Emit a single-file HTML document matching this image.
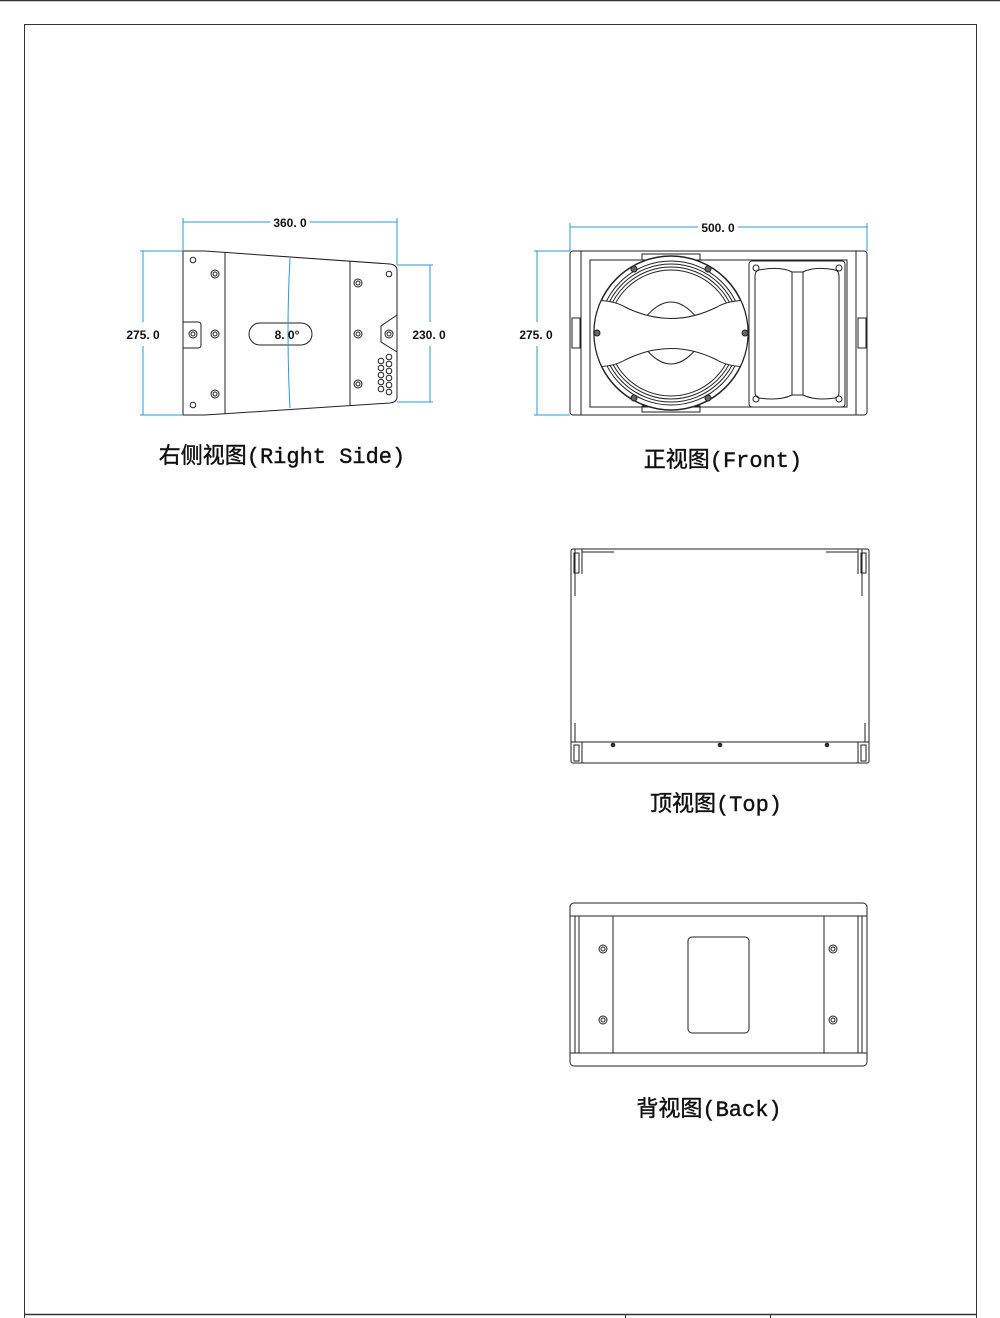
<!DOCTYPE html>
<html><head><meta charset="utf-8"><style>
html,body{margin:0;padding:0;background:#fff;}
svg{display:block;}
.l{font-family:"Liberation Mono","Noto Sans CJK SC",monospace;font-size:22px;fill:#111;stroke:#111;stroke-width:0.4;}
.d{font-family:"Liberation Sans",sans-serif;font-size:12px;font-weight:bold;fill:#111;}
</style></head><body>
<svg width="1000" height="1318" viewBox="0 0 1000 1318" xmlns="http://www.w3.org/2000/svg">
<defs><clipPath id="wc"><circle cx="671" cy="333" r="76.5"/></clipPath></defs>
<g fill="none" stroke="#333" stroke-width="1">
<line x1="0" y1="0.5" x2="1000" y2="0.5" stroke-width="1.5"/>
<line x1="24.5" y1="24" x2="24.5" y2="1318"/>
<line x1="976.5" y1="24" x2="976.5" y2="1318"/>
<line x1="24" y1="24.5" x2="977" y2="24.5"/>
<line x1="24" y1="1314.5" x2="977" y2="1314.5" stroke-width="1.5"/>
<line x1="625.5" y1="1314" x2="625.5" y2="1318"/>
<line x1="770.5" y1="1314" x2="770.5" y2="1318"/>
</g>

<!-- Right side view -->
<g fill="none" stroke="#222" stroke-width="1">
<path d="M183,251 L205,251 L390,264 Q397,265 397,270 L397,397 Q397,402 390,403 L205,415 L183,415 Z"/>
<line x1="225" y1="252.5" x2="225" y2="414"/>
<line x1="350" y1="261" x2="350" y2="405.5"/>
<path d="M183,322 L198,322 Q201,322 201,325 L201,345 Q201,348 198,348 L183,348"/>
<circle cx="193" cy="334" r="4"/><circle cx="193" cy="334" r="2"/>
<circle cx="193" cy="260" r="2.8"/><circle cx="193" cy="405" r="2.8"/>
<circle cx="215" cy="274" r="4"/><circle cx="215" cy="274" r="2"/>
<circle cx="215" cy="334" r="4"/><circle cx="215" cy="334" r="2"/>
<circle cx="215" cy="394" r="4"/><circle cx="215" cy="394" r="2"/>
<circle cx="358" cy="283" r="4"/><circle cx="358" cy="283" r="2"/>
<circle cx="358" cy="334" r="4"/><circle cx="358" cy="334" r="2"/>
<circle cx="358" cy="384" r="4"/><circle cx="358" cy="384" r="2"/>
<circle cx="389" cy="274" r="2.8"/>
<path d="M397,315 L381,326 L381,342 L397,352"/>
<circle cx="389" cy="334" r="4"/><circle cx="389" cy="334" r="2"/>
<circle cx="381" cy="361" r="2.8"/><circle cx="389" cy="357" r="2.8"/>
<circle cx="381" cy="368" r="2.8"/><circle cx="389" cy="364" r="2.8"/>
<circle cx="381" cy="375" r="2.8"/><circle cx="389" cy="371" r="2.8"/>
<circle cx="381" cy="382" r="2.8"/><circle cx="389" cy="378" r="2.8"/>
<circle cx="381" cy="389" r="2.8"/><circle cx="389" cy="385" r="2.8"/>
<circle cx="389" cy="392" r="2.8"/>
<rect x="249" y="323" width="63" height="22" rx="11" fill="#fff"/>
</g>
<g fill="none" stroke="#2a9ad6" stroke-width="1">
<path d="M290,258 Q286,333 290,408"/>
<line x1="183" y1="222" x2="270" y2="222"/><line x1="310" y1="222" x2="397" y2="222"/>
<line x1="183" y1="218" x2="183" y2="251"/><line x1="397" y1="218" x2="397" y2="265"/>
<line x1="143" y1="251" x2="143" y2="322"/><line x1="143" y1="346" x2="143" y2="415"/>
<line x1="140" y1="251" x2="183" y2="251"/><line x1="140" y1="415" x2="183" y2="415"/>
<line x1="430" y1="265" x2="430" y2="322"/><line x1="430" y1="346" x2="430" y2="402"/>
<line x1="397" y1="265" x2="433" y2="265"/><line x1="397" y1="402" x2="433" y2="402"/>
</g>
<text class="d" x="290" y="227" text-anchor="middle">360. 0</text>
<text class="d" x="143" y="339" text-anchor="middle">275. 0</text>
<text class="d" x="429" y="339" text-anchor="middle">230. 0</text>
<text class="d" x="287" y="339" text-anchor="middle">8. 0°</text>
<text class="l" x="282" y="463" text-anchor="middle">右侧视图(Right Side)</text>

<!-- Front view -->
<g fill="none" stroke="#222" stroke-width="1">
<rect x="570" y="251" width="297" height="164" rx="3"/>
<line x1="581" y1="251" x2="581" y2="415"/><line x1="856" y1="251" x2="856" y2="415"/>
<rect x="590" y="260" width="257" height="147"/>
<rect x="572" y="318" width="8" height="30"/><rect x="858" y="318" width="8" height="30"/>
<rect x="642" y="254" width="58" height="6"/><rect x="642" y="406" width="58" height="6"/>
<circle cx="671" cy="333" r="77" fill="#fff" stroke-width="1.5"/>
<circle cx="671" cy="333" r="72"/><circle cx="671" cy="333" r="69"/><circle cx="671" cy="333" r="66"/><circle cx="671" cy="333" r="63"/>
<path d="M645,318 Q671,286 697,318"/><path d="M645,348 Q671,380 697,348"/>
<g clip-path="url(#wc)">
<path d="M580,301 Q610,298 625,307 Q671,330 717,307 Q732,298 762,301 L762,366 Q732,369 717,360 Q671,337 625,360 Q610,369 580,366 Z" fill="#fff"/>
</g>
<circle cx="634" cy="269" r="3" fill="#666"/><circle cx="708" cy="269" r="3" fill="#666"/>
<circle cx="634" cy="398" r="3" fill="#666"/><circle cx="708" cy="398" r="3" fill="#666"/>
<circle cx="597" cy="333" r="3" fill="#666"/><circle cx="745" cy="333" r="3" fill="#666"/>
<rect x="749" y="261" width="96" height="146" rx="3"/>
<path d="M759,270 Q780,266 792,272 L803,272 Q815,266 835,270 Q839,271 839,276 L839,392 Q839,397 835,398 Q815,401 803,395 L792,395 Q780,401 759,398 Q755,397 755,392 L755,276 Q755,271 759,270 Z"/>
<line x1="792" y1="272" x2="792" y2="395"/><line x1="803" y1="272" x2="803" y2="395"/>
<circle cx="756" cy="268" r="3"/><circle cx="839" cy="268" r="3"/><circle cx="756" cy="399" r="3"/><circle cx="839" cy="399" r="3"/>
</g>
<g fill="none" stroke="#2a9ad6" stroke-width="1">
<line x1="570" y1="227" x2="698" y2="227"/><line x1="738" y1="227" x2="867" y2="227"/>
<line x1="570" y1="223" x2="570" y2="251"/><line x1="867" y1="223" x2="867" y2="251"/>
<line x1="537" y1="251" x2="537" y2="322"/><line x1="537" y1="346" x2="537" y2="415"/>
<line x1="534" y1="251" x2="570" y2="251"/><line x1="534" y1="415" x2="570" y2="415"/>
</g>
<text class="d" x="718" y="232" text-anchor="middle">500. 0</text>
<text class="d" x="536" y="339" text-anchor="middle">275. 0</text>
<text class="l" x="723" y="467" text-anchor="middle">正视图(Front)</text>

<!-- Top view -->
<g fill="none" stroke="#222" stroke-width="1">
<rect x="571" y="549" width="298" height="214" rx="2"/>
<line x1="571" y1="742" x2="869" y2="742"/>
<line x1="582" y1="742" x2="582" y2="763"/><line x1="858" y1="742" x2="858" y2="763"/>
<rect x="574" y="745" width="5" height="16"/><rect x="861" y="745" width="5" height="16"/>
<path d="M575,549 L575,596 M582,549 L582,574 M582,552 L614,552 M862,549 L862,596 M858,549 L858,574 M858,552 L826,552"/>
<rect x="574" y="553" width="5" height="20"/><rect x="861" y="553" width="5" height="20"/>
<path d="M575,723 L575,742 M865,723 L865,742"/>
<circle cx="613" cy="745" r="1.8" fill="#333"/><circle cx="720" cy="745" r="1.8" fill="#333"/><circle cx="827" cy="745" r="1.8" fill="#333"/>
</g>
<text class="l" x="716" y="811" text-anchor="middle">顶视图(Top)</text>

<!-- Back view -->
<g fill="none" stroke="#222" stroke-width="1">
<rect x="570" y="903" width="297" height="163" rx="4"/>
<line x1="570" y1="916" x2="867" y2="916"/><line x1="570" y1="1053" x2="867" y2="1053"/>
<line x1="575" y1="916" x2="575" y2="1053"/><line x1="579" y1="916" x2="579" y2="1053"/>
<line x1="613" y1="916" x2="613" y2="1053"/><line x1="824" y1="916" x2="824" y2="1053"/>
<line x1="858" y1="916" x2="858" y2="1053"/><line x1="862" y1="916" x2="862" y2="1053"/>
<rect x="688" y="937" width="61" height="96" rx="4"/>
<circle cx="603" cy="949" r="4"/><circle cx="603" cy="949" r="2"/>
<circle cx="603" cy="1020" r="4"/><circle cx="603" cy="1020" r="2"/>
<circle cx="833" cy="949" r="4"/><circle cx="833" cy="949" r="2"/>
<circle cx="833" cy="1020" r="4"/><circle cx="833" cy="1020" r="2"/>
</g>
<text class="l" x="709" y="1116" text-anchor="middle">背视图(Back)</text>
</svg>
</body></html>
